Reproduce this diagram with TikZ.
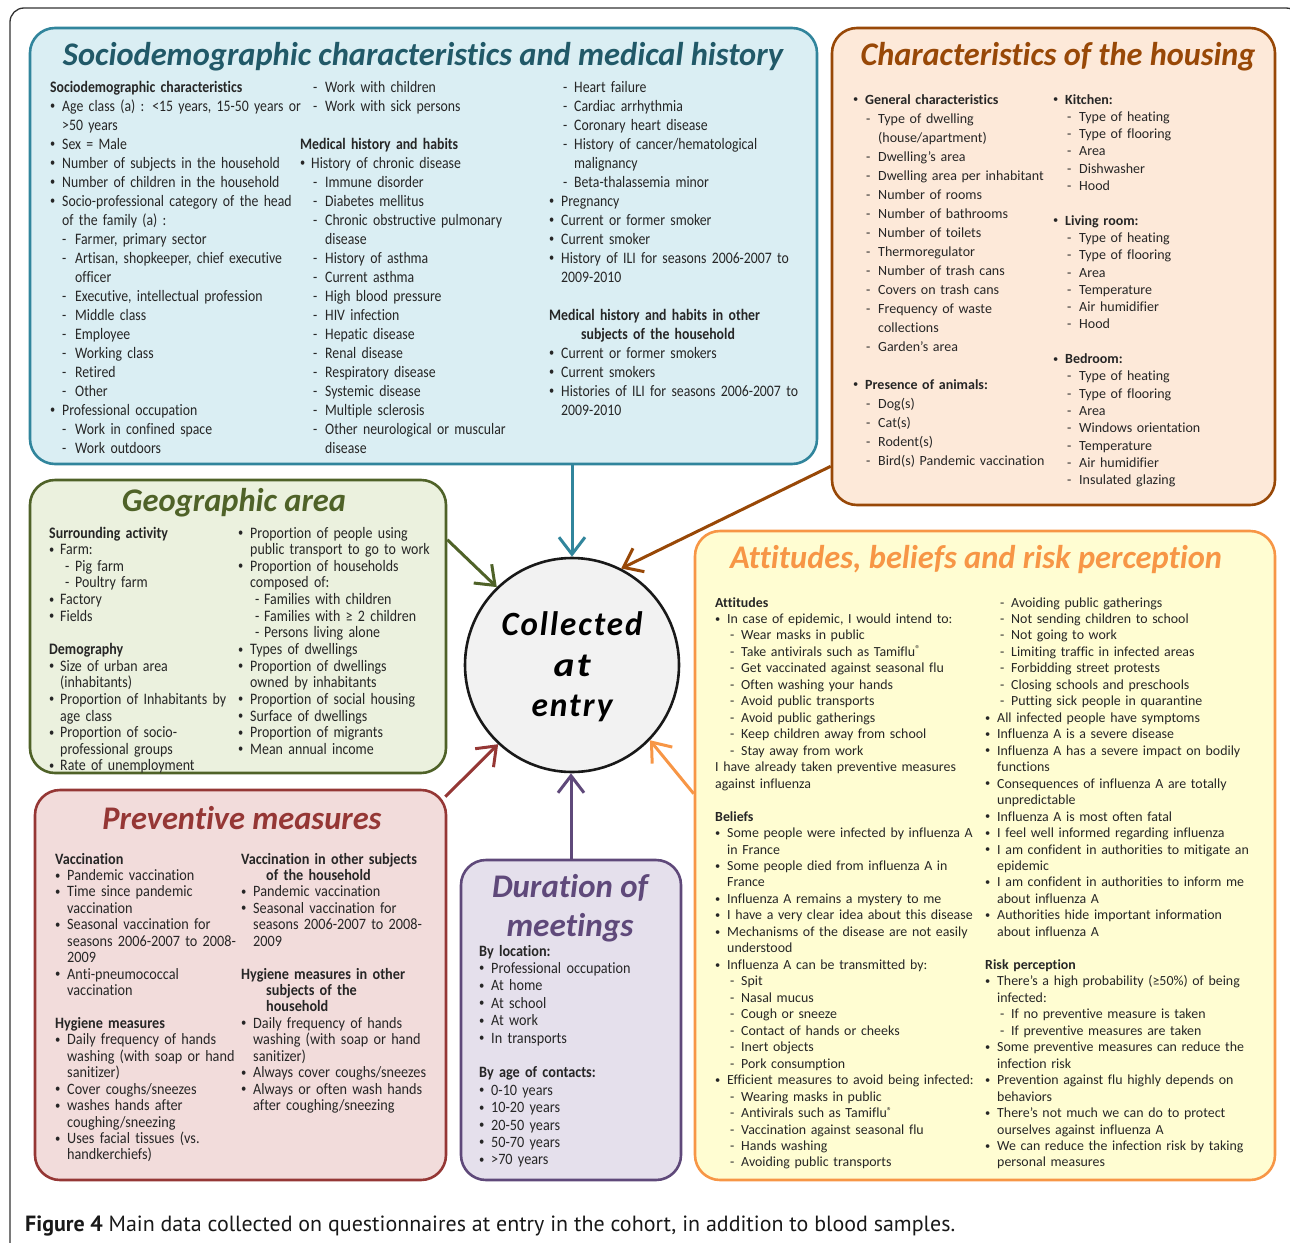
\documentclass[tikz,border=0pt]{standalone}
\usepackage{fontspec}
\usepackage{graphicx}
\setmainfont[Ligatures=NoCommon]{Carlito}
\newfontfamily\condf[FakeStretch=0.9,Ligatures=NoCommon]{Carlito}
\newfontfamily\condA[FakeStretch=0.86,Ligatures=NoCommon]{Carlito}
\newfontfamily\condB[FakeStretch=0.87,Ligatures=NoCommon]{Carlito}
\newfontfamily\capfont{PT Sans}
\newfontfamily\ctrfont[LetterSpace=6,Ligatures=NoCommon]{Carlito}
\usetikzlibrary{arrows.meta}
\definecolor{cBlue}{HTML}{31859C}
\definecolor{cBlueT}{HTML}{215968}
\definecolor{cBlueF}{HTML}{DAEEF3}
\definecolor{cBrown}{HTML}{984807}
\definecolor{cBrownF}{HTML}{FDE9D9}
\definecolor{cGreen}{HTML}{4F6228}
\definecolor{cGreenF}{HTML}{EBF1DE}
\definecolor{cOrange}{HTML}{F79646}
\definecolor{cOrangeF}{HTML}{FFFDD2}
\definecolor{cRed}{HTML}{953735}
\definecolor{cRedF}{HTML}{F2DCDB}
\definecolor{cPurple}{HTML}{5F497A}
\definecolor{cPurpleF}{HTML}{E5E0EC}
\definecolor{cCircF}{HTML}{F2F2F2}
\newlength\bw \newlength\dw \newlength\dt
\newcommand\setind[3]{\setlength\bw{#1pt}\setlength\dw{#2pt}\setlength\dt{#3pt}}
\newcommand\Bu{\makebox[\bw][l]{\raisebox{0.09em}{\scalebox{0.75}{•}}}}
\newcommand\Cb{\hspace*{\bw}}
\newcommand\Da{\hspace*{\dw}\makebox[\dt][l]{-}}
\newcommand\Cd{\hspace*{\dw}\hspace*{\dt}}
\newcommand\reg{{\fontsize{10}{10}\selectfont\raisebox{0.35em}{®}}}
\begin{document}
\begin{tikzpicture}[x=1pt,y=-1pt,
  box/.style={draw, rounded corners=25pt, line width=2.6pt, inner sep=0pt},
  ttl/.style={inner sep=0pt, font=\fontsize{33}{39}\selectfont\bfseries\itshape},
  txt/.style={anchor=base west, inner sep=0pt, align=left, text width=300pt, text=black!85},
  arr/.style={line width=3pt, -{Straight Barb[length=17pt,width=26pt]}}]
\useasboundingbox (0,0) rectangle (1290,1242);
% outer frame
\draw[line width=1.3pt, black!80, rounded corners=14pt] (10,1262) -- (10,8) -- (1300,8) -- (1300,60);
% boxes
\node[box, draw=cBlue, fill=cBlueF, minimum width=787pt, minimum height=436pt] (soc) at (423.5,246) {};
\node[box, draw=cBrown, fill=cBrownF, minimum width=443pt, minimum height=477pt] (hous) at (1053.5,266.5) {};
\node[box, draw=cGreen, fill=cGreenF, minimum width=416pt, minimum height=293pt] (geo) at (238,626.5) {};
\node[box, draw=cOrange, fill=cOrangeF, minimum width=580pt, minimum height=649pt] (att) at (985,855.5) {};
\node[box, draw=cRed, fill=cRedF, minimum width=411pt, minimum height=390pt] (prev) at (240.5,985) {};
\node[box, draw=cPurple, fill=cPurpleF, minimum width=220pt, minimum height=320pt] (dur) at (571,1020) {};
\node[circle, draw=black!90, fill=cCircF, line width=2.6pt, minimum size=214pt, inner sep=0pt] (circ) at (572,665) {};
% titles
\node[ttl, text=cBlueT] (t1) at (423,57) {\resizebox{720pt}{\height}{Sociodemographic characteristics and medical history}};
\node[ttl, text=cBrown] (t2) at (1058,57) {\resizebox{395pt}{\height}{Characteristics of the housing}};
\node[ttl, text=cGreen] (t3) at (234,503) {\resizebox{224pt}{\height}{Geographic area}};
\node[ttl, text=cOrange] (t4) at (976,560) {\resizebox{492pt}{\height}{Attitudes, beliefs and risk perception}};
\node[ttl, text=cRed] (t5) at (242,818) {\resizebox{279pt}{\height}{Preventive measures}};
\node[ttl, text=cPurple, align=center] (t6) at (570,908) {\resizebox{156pt}{\height}{Duration of}\\\resizebox{127pt}{\height}{meetings}};
\node[inner sep=0pt, align=center, font=\ctrfont\fontsize{34}{40.5}\selectfont\bfseries\itshape] (ctr) at (572,667)
  {\resizebox{141pt}{\height}{Collected}\\\resizebox{37pt}{\height}{at}\\\resizebox{81pt}{\height}{entry}};
% ---------- Sociodemographic ----------
\node[txt, font=\condA\fontsize{16}{19}\selectfont] (s1) at (50,92) {\setind{12}{12}{13}%
\textbf{Sociodemographic characteristics}\\
\Bu Age class (a) : <15 years, 15-50 years or\\
\Cb >50 years\\
\Bu Sex = Male\\
\Bu Number of subjects in the household\\
\Bu Number of children in the household\\
\Bu Socio-professional category of the head\\
\Cb of the family (a) :\\
\Da Farmer, primary sector\\
\Da Artisan, shopkeeper, chief executive\\
\Cd officer\\
\Da Executive, intellectual profession\\
\Da Middle class\\
\Da Employee\\
\Da Working class\\
\Da Retired\\
\Da Other\\
\Bu Professional occupation\\
\Da Work in confined space\\
\Da Work outdoors};
\node[txt, font=\condA\fontsize{16}{19}\selectfont] (s2) at (300,92) {\setind{11}{13}{12}%
\Da Work with children\\
\Da Work with sick persons\\
\mbox{}\\
\textbf{Medical history and habits}\\
\Bu History of chronic disease\\
\Da Immune disorder\\
\Da Diabetes mellitus\\
\Da Chronic obstructive pulmonary\\
\Cd disease\\
\Da History of asthma\\
\Da Current asthma\\
\Da High blood pressure\\
\Da HIV infection\\
\Da Hepatic disease\\
\Da Renal disease\\
\Da Respiratory disease\\
\Da Systemic disease\\
\Da Multiple sclerosis\\
\Da Other neurological or muscular\\
\Cd disease};
\node[txt, font=\condA\fontsize{16}{19}\selectfont] (s3) at (549,92) {\setind{12}{14}{11}%
\Da Heart failure\\
\Da Cardiac arrhythmia\\
\Da Coronary heart disease\\
\Da History of cancer/hematological\\
\Cd malignancy\\
\Da Beta-thalassemia minor\\
\Bu Pregnancy\\
\Bu Current or former smoker\\
\Bu Current smoker\\
\Bu History of ILI for seasons 2006-2007 to\\
\Cb 2009-2010\\
\mbox{}\\
\textbf{Medical history and habits in other}\\
\hspace*{32pt}\textbf{subjects of the household}\\
\Bu Current or former smokers\\
\Bu Current smokers\\
\Bu Histories of ILI for seasons 2006-2007 to\\
\Cb 2009-2010};
% ---------- Housing ----------
\node[txt, font=\fontsize{14}{19}\selectfont] (h1) at (853,104) {\setind{12}{13}{12}%
\Bu\textbf{General characteristics}\\
\Da Type of dwelling\\
\Cd (house/apartment)\\
\Da Dwelling’s area\\
\Da Dwelling area per inhabitant\\
\Da Number of rooms\\
\Da Number of bathrooms\\
\Da Number of toilets\\
\Da Thermoregulator\\
\Da Number of trash cans\\
\Da Covers on trash cans\\
\Da Frequency of waste\\
\Cd collections\\
\Da Garden’s area\\
\mbox{}\\
\Bu\textbf{Presence of animals:}\\
\Da Dog(s)\\
\Da Cat(s)\\
\Da Rodent(s)\\
\Da Bird(s) Pandemic vaccination};
\node[txt, font=\fontsize{14}{17.3}\selectfont] (h2) at (1053,104) {\setind{12}{14}{12}%
\Bu\textbf{Kitchen:}\\
\Da Type of heating\\
\Da Type of flooring\\
\Da Area\\
\Da Dishwasher\\
\Da Hood\\
\mbox{}\\
\Bu\textbf{Living room:}\\
\Da Type of heating\\
\Da Type of flooring\\
\Da Area\\
\Da Temperature\\
\Da Air humidifier\\
\Da Hood\\
\mbox{}\\
\Bu\textbf{Bedroom:}\\
\Da Type of heating\\
\Da Type of flooring\\
\Da Area\\
\Da Windows orientation\\
\Da Temperature\\
\Da Air humidifier\\
\Da Insulated glazing};
% ---------- Geographic ----------
\node[txt, font=\condB\fontsize{16}{16.64}\selectfont] (g1) at (49,538) {\setind{11}{16}{10}%
\textbf{Surrounding activity}\\
\Bu Farm:\\
\Da Pig farm\\
\Da Poultry farm\\
\Bu Factory\\
\Bu Fields\\
\mbox{}\\
\textbf{Demography}\\
\Bu Size of urban area\\
\Cb (inhabitants)\\
\Bu Proportion of Inhabitants by\\
\Cb age class\\
\Bu Proportion of socio-\\
\Cb professional groups\\
\Bu Rate of unemployment};
\node[txt, font=\condB\fontsize{16}{16.64}\selectfont] (g2) at (238,538) {\setind{12}{17}{9}%
\Bu Proportion of people using\\
\Cb public transport to go to work\\
\Bu Proportion of households\\
\Cb composed of:\\
\Da Families with children\\
\Da Families with ≥ 2 children\\
\Da Persons living alone\\
\Bu Types of dwellings\\
\Bu Proportion of dwellings\\
\Cb owned by inhabitants\\
\Bu Proportion of social housing\\
\Bu Surface of dwellings\\
\Bu Proportion of migrants\\
\Bu Mean annual income};
% ---------- Attitudes ----------
\node[txt, font=\fontsize{13.9}{16.47}\selectfont] (a1) at (715,607) {\setind{12}{15}{11}%
\textbf{Attitudes}\\
\Bu In case of epidemic, I would intend to:\\
\Da Wear masks in public\\
\Da Take antivirals such as Tamiflu\reg\\
\Da Get vaccinated against seasonal flu\\
\Da Often washing your hands\\
\Da Avoid public transports\\
\Da Avoid public gatherings\\
\Da Keep children away from school\\
\Da Stay away from work\\
I have already taken preventive measures\\
against influenza\\
\mbox{}\\
\textbf{Beliefs}\\
\Bu Some people were infected by influenza A\\
\Cb in France\\
\Bu Some people died from influenza A in\\
\Cb France\\
\Bu Influenza A remains a mystery to me\\
\Bu I have a very clear idea about this disease\\
\Bu Mechanisms of the disease are not easily\\
\Cb understood\\
\Bu Influenza A can be transmitted by:\\
\Da Spit\\
\Da Nasal mucus\\
\Da Cough or sneeze\\
\Da Contact of hands or cheeks\\
\Da Inert objects\\
\Da Pork consumption\\
\Bu Efficient measures to avoid being infected:\\
\Da Wearing masks in public\\
\Da Antivirals such as Tamiflu\reg\\
\Da Vaccination against seasonal flu\\
\Da Hands washing\\
\Da Avoiding public transports};
\node[txt, font=\fontsize{13.9}{16.47}\selectfont] (a2) at (985,607) {\setind{12}{15}{11}%
\Da Avoiding public gatherings\\
\Da Not sending children to school\\
\Da Not going to work\\
\Da Limiting traffic in infected areas\\
\Da Forbidding street protests\\
\Da Closing schools and preschools\\
\Da Putting sick people in quarantine\\
\Bu All infected people have symptoms\\
\Bu Influenza A is a severe disease\\
\Bu Influenza A has a severe impact on bodily\\
\Cb functions\\
\Bu Consequences of influenza A are totally\\
\Cb unpredictable\\
\Bu Influenza A is most often fatal\\
\Bu I feel well informed regarding influenza\\
\Bu I am confident in authorities to mitigate an\\
\Cb epidemic\\
\Bu I am confident in authorities to inform me\\
\Cb about influenza A\\
\Bu Authorities hide important information\\
\Cb about influenza A\\
\mbox{}\\
\textbf{Risk perception}\\
\Bu There's a high probability (≥50\%) of being\\
\Cb infected:\\
\Da If no preventive measure is taken\\
\Da If preventive measures are taken\\
\Bu Some preventive measures can reduce the\\
\Cb infection risk\\
\Bu Prevention against flu highly depends on\\
\Cb behaviors\\
\Bu There’s not much we can do to protect\\
\Cb ourselves against influenza A\\
\Bu We can reduce the infection risk by taking\\
\Cb personal measures};
% ---------- Preventive ----------
\node[txt, font=\condf\fontsize{15.8}{16.44}\selectfont] (p1) at (55,864) {\setind{12}{14}{11}%
\textbf{Vaccination}\\
\Bu Pandemic vaccination\\
\Bu Time since pandemic\\
\Cb vaccination\\
\Bu Seasonal vaccination for\\
\Cb seasons 2006-2007 to 2008-\\
\Cb 2009\\
\Bu Anti-pneumococcal\\
\Cb vaccination\\
\mbox{}\\
\textbf{Hygiene measures}\\
\Bu Daily frequency of hands\\
\Cb washing (with soap or hand\\
\Cb sanitizer)\\
\Bu Cover coughs/sneezes\\
\Bu washes hands after\\
\Cb coughing/sneezing\\
\Bu Uses facial tissues (vs.\\
\Cb handkerchiefs)};
\node[txt, font=\condf\fontsize{15.8}{16.44}\selectfont] (p2) at (241,864) {\setind{12}{14}{11}%
\textbf{Vaccination in other subjects}\\
\hspace*{25pt}\textbf{of the household}\\
\Bu Pandemic vaccination\\
\Bu Seasonal vaccination for\\
\Cb seasons 2006-2007 to 2008-\\
\Cb 2009\\
\mbox{}\\
\textbf{Hygiene measures in other}\\
\hspace*{25pt}\textbf{subjects of the}\\
\hspace*{25pt}\textbf{household}\\
\Bu Daily frequency of hands\\
\Cb washing (with soap or hand\\
\Cb sanitizer)\\
\Bu Always cover coughs/sneezes\\
\Bu Always or often wash hands\\
\Cb after coughing/sneezing};
% ---------- Duration ----------
\node[txt, font=\condf\fontsize{15.8}{17.4}\selectfont] (d1) at (479,956) {\setind{12}{14}{11}%
\textbf{By location:}\\
\Bu Professional occupation\\
\Bu At home\\
\Bu At school\\
\Bu At work\\
\Bu In transports\\
\mbox{}\\
\textbf{By age of contacts:}\\
\Bu 0-10 years\\
\Bu 10-20 years\\
\Bu 20-50 years\\
\Bu 50-70 years\\
\Bu >70 years};
% ---------- arrows ----------
\draw[arr, cBlue] (soc.south -| circ.north) -- (circ.north);
\draw[arr, cBrown] ([yshift=40pt]hous.south west) -- (circ.63);
\draw[arr, cGreen] ([yshift=-61pt]geo.north east) -- (circ.134);
\draw[arr, cRed] ([xshift=-2pt,yshift=-8pt]prev.north east) -- (circ.227);
\draw[arr, cPurple] (dur.north) -- (dur.north |- circ.south);
\draw[arr, cOrange] ([yshift=-264pt]att.north west) -- (circ.316);
% caption
\node[anchor=base west, inner sep=0pt, font=\capfont\fontsize{22}{25}\selectfont, text=black!90] (cap) at (25,1231)
  {\resizebox{930pt}{\height}{\textbf{Figure 4} Main data collected on questionnaires at entry in the cohort, in addition to blood samples.}};
\end{tikzpicture}
\end{document}
